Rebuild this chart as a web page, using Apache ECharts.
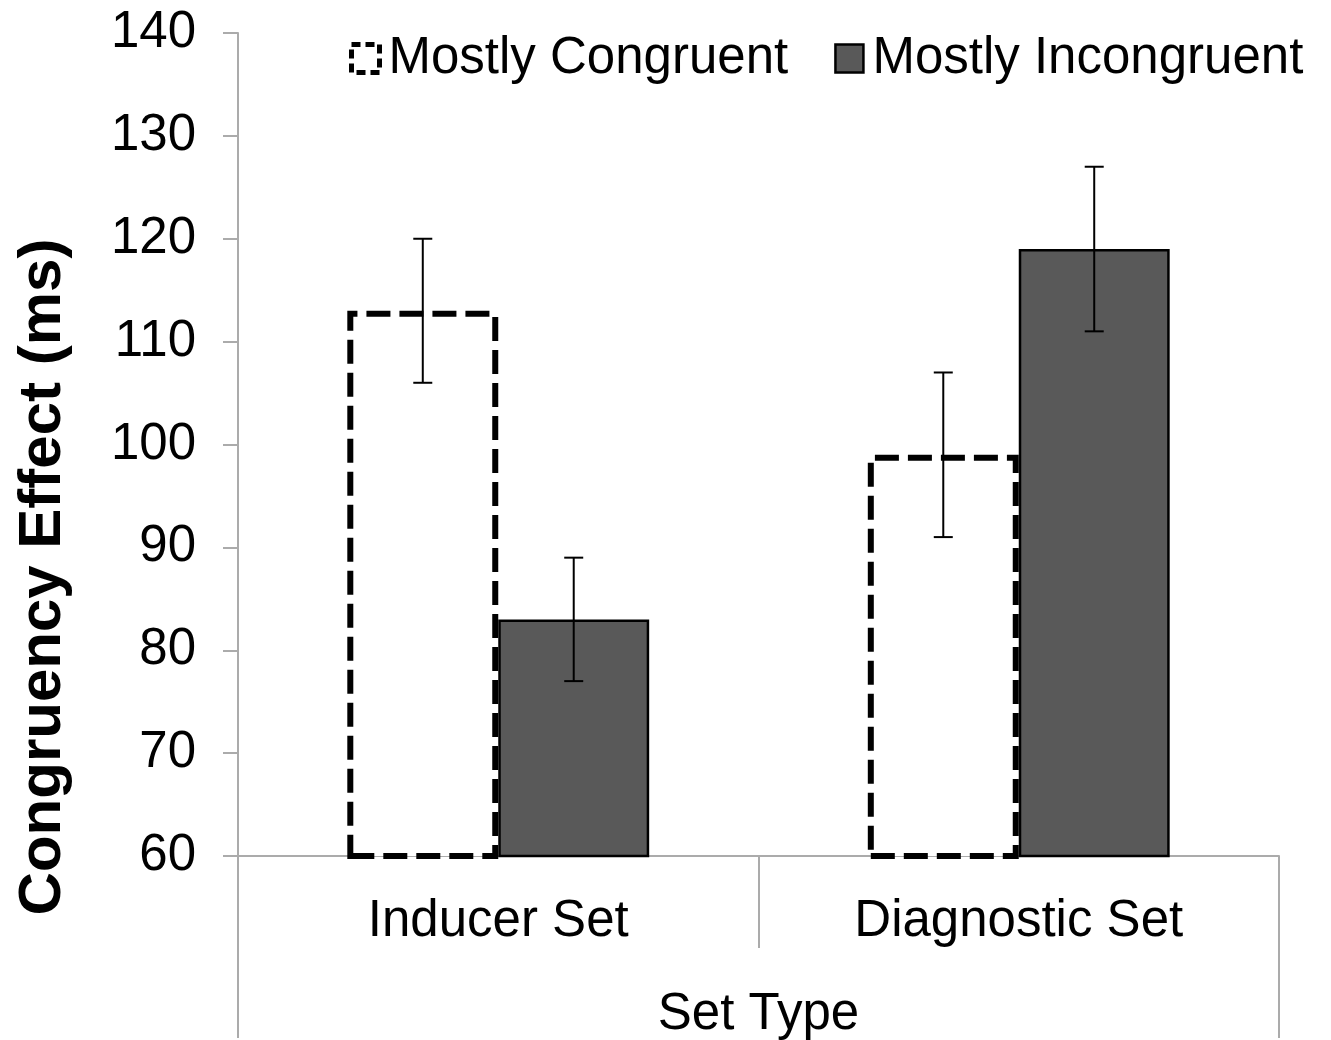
<!DOCTYPE html>
<html>
<head>
<meta charset="utf-8">
<script src="https://cdn.jsdelivr.net/npm/echarts@6/dist/echarts.min.js"></script>
<style>
html,body{margin:0;padding:0;background:#fff;}
#chart{width:1331px;height:1040px;}
</style>
</head>
<body>
<div id="chart"></div>
<script>
// ---- data ----
const categories = ['Inducer Set', 'Diagnostic Set'];
const groupLabel = ['Set Type'];
const seriesNames = ['Mostly Congruent', 'Mostly Incongruent'];
const congruentMeans = [113, 99];
const incongruentMeans = [83, 119];
const congruentLow = [106, 91];
const congruentHigh = [120, 107];
const incongruentLow = [77, 111];
const incongruentHigh = [89, 127];
const yTicks = [60, 70, 80, 90, 100, 110, 120, 130, 140];
const yTitle = 'Congruency Effect (ms)';

const FONT = "'Liberation Sans', Arial, Helvetica, sans-serif";
const GRAY = '#ababab';
const BAR_FRAC = 0.29;

function errData(lo, hi) {
  return categories.map((c, i) => [i, lo[i], hi[i]]);
}

function makeErrRender(side) {
  return function (params, api) {
    const idx = api.value(0);
    const pLo = api.coord([idx, api.value(1)]);
    const pHi = api.coord([idx, api.value(2)]);
    const band = api.size([1, 0])[0];
    const x = pLo[0] + side * band * BAR_FRAC / 2;
    const cap = 9.5;
    const style = { stroke: '#000', lineWidth: 2 };
    return {
      type: 'group',
      children: [
        { type: 'line', shape: { x1: x, y1: pLo[1], x2: x, y2: pHi[1] }, style },
        { type: 'line', shape: { x1: x - cap, y1: pLo[1], x2: x + cap, y2: pLo[1] }, style },
        { type: 'line', shape: { x1: x - cap, y1: pHi[1], x2: x + cap, y2: pHi[1] }, style }
      ]
    };
  };
}

const chart = echarts.init(document.getElementById('chart'), null, { renderer: 'canvas' });
chart.setOption({
  animation: false,
  backgroundColor: '#fff',
  textStyle: { fontFamily: FONT },
  grid: { left: 238, right: 52, top: 33, bottom: 182, containLabel: false },
  legend: {
    left: 344, top: 28,
    itemWidth: 28, itemHeight: 28, itemGap: 46,
    textStyle: { fontSize: 51, color: '#000', fontFamily: FONT, padding: [0, 0, 0, 4] },
    data: [
      { name: seriesNames[0], icon: 'rect', itemStyle: { color: '#fff', borderColor: '#000', borderWidth: 5, borderType: [9, 5] } },
      { name: seriesNames[1], icon: 'rect', itemStyle: { color: '#595959', borderColor: '#000', borderWidth: 2.5 } }
    ]
  },
  xAxis: [
    {
      type: 'category',
      data: categories,
      position: 'bottom',
      boundaryGap: true,
      axisLine: { show: true, lineStyle: { color: GRAY, width: 2 } },
      axisTick: { show: true, length: 92, lineStyle: { color: GRAY, width: 2 } },
      axisLabel: { fontSize: 51, color: '#000', margin: 40, fontFamily: FONT },
      splitLine: { show: false }
    },
    {
      type: 'category',
      data: groupLabel,
      position: 'bottom',
      boundaryGap: true,
      axisLine: { show: false },
      axisTick: { show: true, length: 182, lineStyle: { color: GRAY, width: 2 } },
      axisLabel: { fontSize: 51, color: '#000', margin: 133, fontFamily: FONT },
      splitLine: { show: false }
    }
  ],
  yAxis: {
    type: 'value',
    min: yTicks[0], max: yTicks[yTicks.length - 1], interval: 10,
    axisLine: { show: true, lineStyle: { color: GRAY, width: 2 } },
    axisTick: { show: true, length: 15, lineStyle: { color: GRAY, width: 2 } },
    axisLabel: { fontSize: 51, color: '#000', margin: 42, fontFamily: FONT, padding: [6, 0, 0, 0] },
    splitLine: { show: false }
  },
  graphic: [
    {
      type: 'text',
      x: 43, y: 577,
      rotation: Math.PI / 2,
      style: {
        text: yTitle,
        font: "bold 60px 'Liberation Sans', Arial, sans-serif",
        fill: '#000',
        align: 'center',
        verticalAlign: 'middle'
      }
    }
  ],
  series: [
    {
      name: seriesNames[0], type: 'bar', xAxisIndex: 0,
      data: congruentMeans,
      barWidth: (BAR_FRAC * 100) + '%', barGap: '0%',
      itemStyle: { color: '#fff', borderColor: '#000', borderWidth: 6, borderType: [24, 9] },
      z: 2
    },
    {
      name: seriesNames[1], type: 'bar', xAxisIndex: 0,
      data: incongruentMeans,
      barWidth: (BAR_FRAC * 100) + '%', barGap: '0%',
      itemStyle: { color: '#595959', borderColor: '#000', borderWidth: 2.5 },
      z: 3
    },
    {
      type: 'custom', xAxisIndex: 0, name: 'errC',
      data: errData(congruentLow, congruentHigh),
      encode: { x: 0, y: [1, 2] },
      renderItem: makeErrRender(-1), z: 10
    },
    {
      type: 'custom', xAxisIndex: 0, name: 'errI',
      data: errData(incongruentLow, incongruentHigh),
      encode: { x: 0, y: [1, 2] },
      renderItem: makeErrRender(1), z: 10
    }
  ]
});
</script>
</body>
</html>
